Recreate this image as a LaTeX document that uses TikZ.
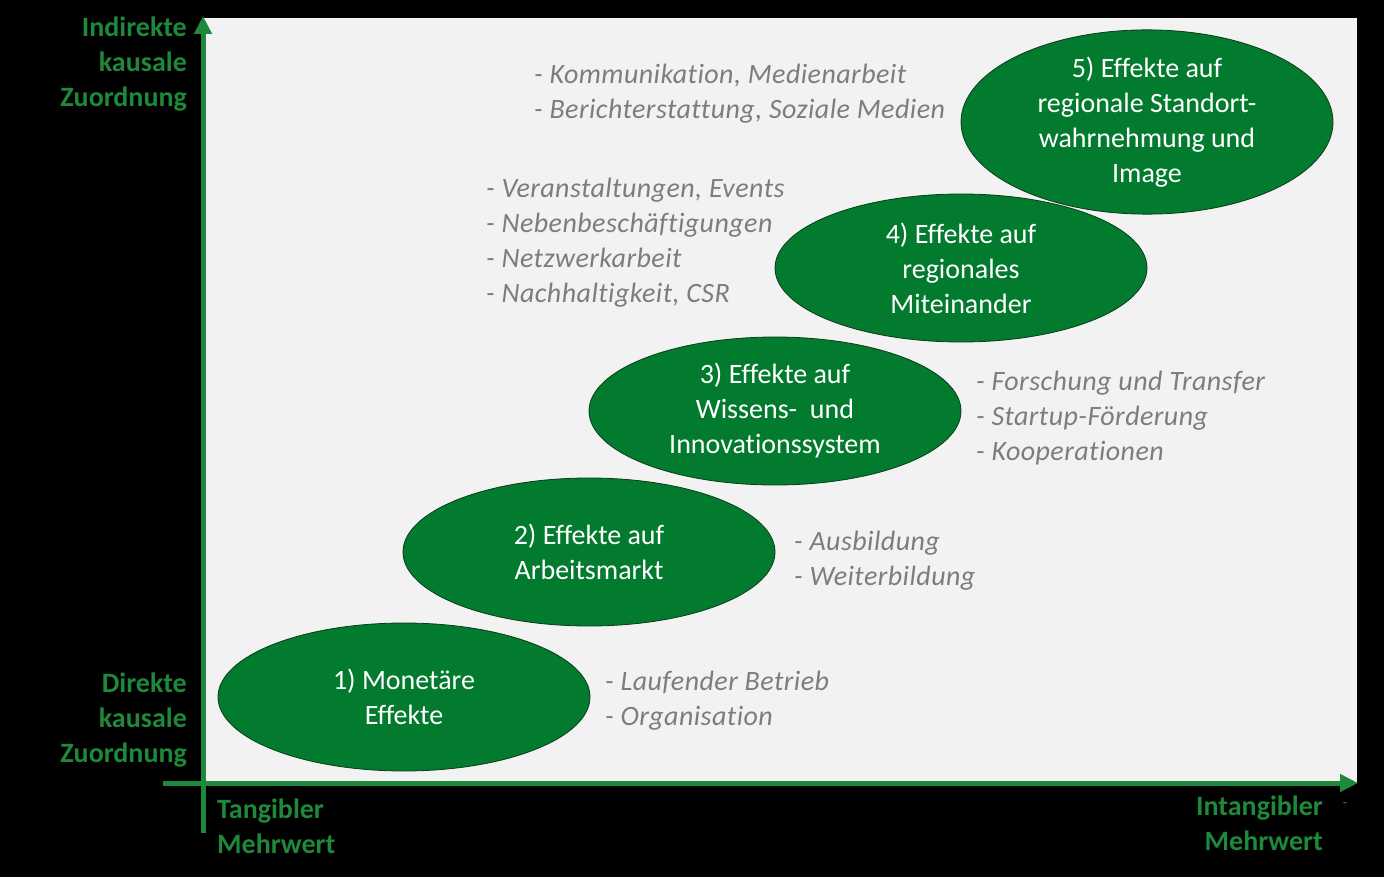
\documentclass[tikz,border=0pt]{standalone}
\usepackage{fontspec}
\setmainfont{Carlito}[Ligatures={NoCommon}]
\newfontfamily\bulletfont{Carlito}[Ligatures={NoCommon}, LetterSpace=1.6]
\usetikzlibrary{arrows.meta,shapes.geometric}
\definecolor{axisgreen}{RGB}{30,137,58}
\definecolor{ellg}{RGB}{2,123,46}
\definecolor{elldark}{RGB}{10,60,25}
\definecolor{panel}{RGB}{242,242,242}
\definecolor{bullet}{RGB}{125,125,125}
\pgfdeclareradialshading{ellsh}{\pgfpoint{0bp}{0bp}}{color(0bp)=(ellg); color(41bp)=(ellg); color(47bp)=(ellg!72!black); color(50bp)=(elldark); color(60bp)=(elldark)}
\tikzset{
  axisline/.style={line width=5pt, draw=axisgreen},
  axislabel/.style={text=axisgreen, font=\fontsize{28}{35}\selectfont\bfseries, inner sep=0pt},
  effect/.style={ellipse, shading=ellsh, draw=elldark, line width=0.8pt, minimum width=372pt, minimum height=148pt, inner sep=0pt, text=white, align=center, font=\fontsize{28}{35}\selectfont},
  bulletlist/.style={text=bullet, font=\bulletfont\fontsize{28}{35}\selectfont\itshape, align=left, anchor=west, inner sep=0pt},
}
\begin{document}
\begin{tikzpicture}[x=1pt,y=-1pt]
\useasboundingbox[fill=black] (0,0) rectangle (1384,877);
\fill[panel] (203,18) rectangle (1357,783);
% axes
\coordinate (vbot) at (203,833);
\coordinate (vtop) at (203,16);
\coordinate (hleft) at (163,783);
\coordinate (hright) at (1358,783);
\draw[axisline,-{Triangle[length=18pt,width=17pt]}] (vbot) -- (vtop);
\draw[axisline,-{Triangle[length=18pt,width=17pt]}] (hleft) -- (hright);
% axis labels
\node[axislabel, align=right, anchor=east] (ind) at (187,64) {Indirekte\\kausale\\Zuordnung};
\node[axislabel, align=right, anchor=east] (dir) at (187,720) {Direkte\\kausale\\Zuordnung};
\node[axislabel, align=left, anchor=west] (tang) at (217,826) {Tangibler\\Mehrwert};
\node[axislabel, align=right, anchor=east] (intang) at (1323,823) {Intangibler\\Mehrwert};
\node[text=axisgreen, font=\fontsize{12}{14}\selectfont\bfseries, inner sep=0pt] (dash) at (1345,804) {-};
% ellipses
\node[effect] (e1) at (404,697) {1) Monetäre\\Effekte};
\node[effect] (e2) at (589,552) {2) Effekte auf\\Arbeitsmarkt};
\node[effect] (e3) at (775,411) {3) Effekte auf\\Wissens-~~und\\Innovationssystem};
\node[effect] (e4) at (961,268) {4) Effekte auf\\regionales\\Miteinander};
\node[effect] (e5) at (1147,122) {5) Effekte auf\\regionale Standort-\\wahrnehmung und\\Image};
% bullet lists
\node[bulletlist] (b1) at (605,701) {- Laufender Betrieb\\- Organisation};
\node[bulletlist] (b2) at (794,561) {- Ausbildung\\- Weiterbildung};
\node[bulletlist] (b3) at (976,418) {- Forschung und Transfer\\- Startup-Förderung\\- Kooperationen};
\node[bulletlist] (b4) at (486,243) {- Veranstaltungen, Events\\- Nebenbeschäftigungen\\- Netzwerkarbeit\\- Nachhaltigkeit, CSR};
\node[bulletlist] (b5) at (534,94) {- Kommunikation, Medienarbeit\\- Berichterstattung, Soziale Medien};
\end{tikzpicture}
\end{document}
